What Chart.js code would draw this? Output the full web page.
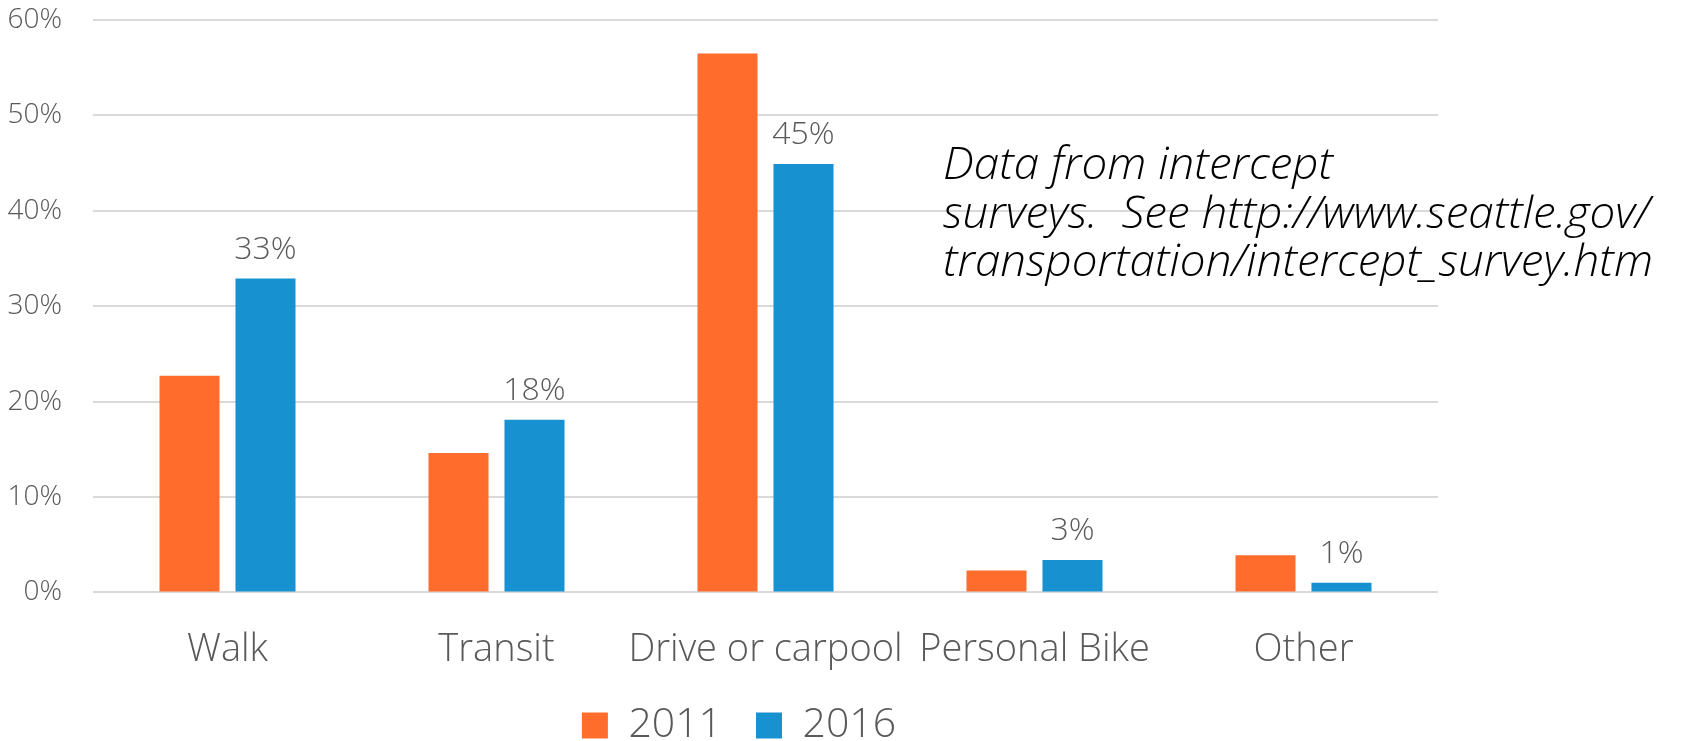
<!DOCTYPE html>
<html lang="en">
<head>
<meta charset="UTF-8">
<title>Modo de transporte</title>
<script src="https://cdn.jsdelivr.net/npm/chart.js"></script>
<style>
    html, body { margin: 0; padding: 0; background: #fff; }
    #wrap { width: 1702px; height: 741px; }
</style>
</head>
<body>
<div id="wrap"><canvas id="grafico"></canvas></div>
<script>
    const categorias = ['Walk', 'Transit', 'Drive or carpool', 'Personal Bike', 'Other'];
    const valores2011 = [22.7, 14.6, 56.5, 2.3, 3.9];
    const valores2016 = [32.9, 18.1, 44.9, 3.4, 1.0];
    const rotulos2016 = ['33%', '18%', '45%', '3%', '1%'];
    const ticksY = [0, 10, 20, 30, 40, 50, 60];
    const nota = ['Data from intercept', 'surveys.  See http://www.seattle.gov/', 'transportation/intercept_survey.htm'];

    const fonte = '"Open Sans", "Segoe UI", sans-serif';
    const cinza = '#595959';

    // nota em itálico à direita
    const notaPlugin = {
        id: 'nota',
        afterLayout(chart) {
            // legenda um pouco mais alta e centrada como no original
            const lg = chart.legend;
            lg.top -= 29;
            lg.bottom -= 29;
            lg.left += 40;
        },
        afterDraw(chart) {
            const ctx = chart.ctx;
            ctx.save();
            ctx.font = 'italic 300 44px ' + fonte;
            ctx.fillStyle = '#000';
            ctx.textBaseline = 'alphabetic';
            const escala = 710 / ctx.measureText(nota[2]).width;
            const linhas = [179, 228, 276];
            nota.forEach(function (t, i) {
                ctx.save();
                ctx.translate(943, linhas[i]);
                ctx.scale(escala, 1);
                ctx.fillText(t, 0, 0);
                ctx.restore();
            });
            ctx.restore();
        }
    };

    const rotulosPlugin = {
        id: 'rotulos',
        afterDatasetsDraw(chart) {
            const ctx = chart.ctx;
            const meta = chart.getDatasetMeta(1);
            ctx.save();
            ctx.font = '300 32px ' + fonte;
            ctx.fillStyle = cinza;
            ctx.textAlign = 'center';
            ctx.textBaseline = 'alphabetic';
            meta.data.forEach(function (bar, i) {
                ctx.fillText(rotulos2016[i], bar.x, bar.y - 20);
            });
            ctx.restore();
        }
    };

    const grafico = new Chart(document.getElementById('grafico'), {
        type: 'bar',
        data: {
            labels: categorias,
            datasets: [{
                label: '2011',
                data: valores2011,
                backgroundColor: '#FF6C2C',
                categoryPercentage: 0.565,
                barPercentage: 0.79
            }, {
                label: '2016',
                data: valores2016,
                backgroundColor: '#1791CF',
                categoryPercentage: 0.565,
                barPercentage: 0.79
            }]
        },
        options: {
            responsive: true,
            maintainAspectRatio: false,
            animation: false,
            layout: { padding: { top: 0, right: 264, left: 0, bottom: -44 } },
            plugins: {
                tooltip: { enabled: false },
                legend: {
                    position: 'bottom',
                    labels: {
                        boxWidth: 26,
                        boxHeight: 26,
                        color: cinza,
                        padding: 34,
                        font: { family: fonte, size: 41, weight: '300' }
                    }
                }
            },
            scales: {
                x: {
                    grid: { display: false },
                    border: { display: false },
                    ticks: {
                        color: cinza,
                        padding: 27,
                        autoSkip: false,
                        maxRotation: 0,
                        font: { family: fonte, size: 38, weight: '300' }
                    }
                },
                y: {
                    min: 0,
                    max: 60,
                    afterBuildTicks: function (s) {
                        s.ticks = ticksY.map(function (v) { return { value: v }; });
                    },
                    afterFit: function (s) {
                        s.width = 93;
                        s.paddingTop = 20;
                        s.paddingBottom = 0;
                    },
                    grid: { color: '#d9d9d9', lineWidth: 2, drawTicks: false },
                    border: { display: false },
                    ticks: {
                        color: cinza,
                        padding: 31,
                        font: { family: fonte, size: 28, weight: '300' },
                        callback: function (v) { return v + '%'; }
                    }
                }
            }
        },
        plugins: [notaPlugin, rotulosPlugin]
    });
</script>
</body>
</html>
